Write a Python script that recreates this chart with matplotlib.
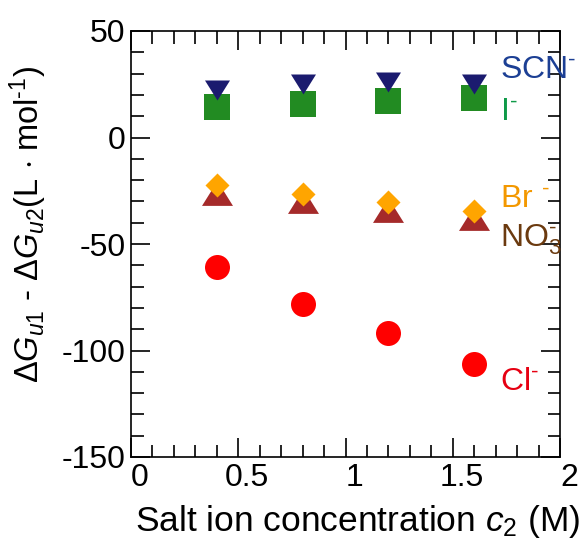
import matplotlib
matplotlib.use("Agg")
from matplotlib import pyplot as plt
from matplotlib import transforms
from matplotlib.ticker import MultipleLocator

plt.rcParams['font.family'] = ['Liberation Sans', 'DejaVu Sans']
plt.rcParams['mathtext.fontset'] = 'custom'
plt.rcParams['mathtext.rm'] = 'Liberation Sans'
plt.rcParams['mathtext.it'] = 'Liberation Sans:italic'
plt.rcParams['axes.unicode_minus'] = False

# salt ion concentration (M)
conc = [0.4, 0.8, 1.2, 1.6]

# delta G_u1 - delta G_u2 for each anion
scn = [22.3, 25.1, 26.2, 25.1]
iod = [14.3, 15.8, 17.3, 18.6]
br = [-22.5, -26.3, -30.5, -34.7]
no3 = [-26.1, -30.0, -34.0, -37.8]
cl = [-60.7, -78.1, -91.9, -106.3]

xticks = [0, 0.5, 1, 1.5, 2]
xticklabels = ['0', '0.5', '1', '1.5', '2']
yticks = [50, 0, -50, -100, -150]

tri_down = [(-1, 0.8), (1, 0.8), (0, -0.8), (-1, 0.8)]
tri_up = [(-1, -0.8), (1, -0.8), (0, 0.8), (-1, -0.8)]
diamond = [(0, 1), (1, 0), (0, -1), (-1, 0), (0, 1)]

fig = plt.figure(figsize=(5.87, 5.47), dpi=100)
ax = fig.add_axes([131 / 587, 90 / 547, 429 / 587, 426 / 547])

ax.plot(conc, iod, ls='none', marker='s', ms=18.7, color='#228b22', mew=0)
ax.plot(conc, scn, ls='none', marker=tri_down, ms=18, color='#1b1b6f', mew=0)
ax.plot(conc, no3, ls='none', marker=tri_up, ms=22.3, color='#a52a2a', mew=0)
ax.plot(conc, br, ls='none', marker=diamond, ms=17.3, color='#ffa500', mew=0)
ax.plot(conc, cl, ls='none', marker='o', ms=18, color='#ff0000', mew=0)

fs = 23
ax.text(1.72, 27.9, r'SCN$^{\text{-}}$', color='#1c3f94', fontsize=fs, clip_on=False)
ax.text(1.72, 8.2, r'I$^{\text{-}}$', color='#0f9a48', fontsize=fs, clip_on=False)
ax.text(1.72, -32.6, r'Br $^{\text{-}}$', color='#f39800', fontsize=fs, clip_on=False)
ax.text(1.72, -51.4, r'NO$_{3}^{\text{-}}$', color='#6b3a0f', fontsize=fs, clip_on=False)
ax.text(1.72, -118.5, r'Cl$^{\text{-}}$', color='#e60012', fontsize=fs, clip_on=False)

ax.set_xlim(0, 2)
ax.set_ylim(-150, 50)
ax.set_xticks(xticks)
ax.set_xticklabels(xticklabels)
ax.set_yticks(yticks)
ax.xaxis.set_minor_locator(MultipleLocator(0.1))
ax.yaxis.set_minor_locator(MultipleLocator(10))
ax.tick_params(which='both', direction='in', top=True, right=True, width=1.2,
               labelsize=23, color='black')
ax.tick_params(which='major', length=13.5, pad=4)
ax.tick_params(which='minor', length=9)
for sp in ax.spines.values():
    sp.set_linewidth(1.2)

shift = transforms.ScaledTranslation(0.09, 0, fig.dpi_scale_trans)
for lab in ax.get_xticklabels():
    lab.set_transform(lab.get_transform() + shift)

ax.set_xlabel(r'Salt ion concentration $\mathit{c_{2}}$ (M)', fontsize=25.5)
ax.xaxis.set_label_coords(0.529, -0.108)
ax.set_ylabel(r'$\mathit{\Delta G_{u1}}$ - $\mathit{\Delta G_{u2}}$(L $\cdot$ mol$^{\text{-1}}$)', fontsize=23.5)
ax.yaxis.set_label_coords(-0.19, 0.547)

plt.savefig('out.png', dpi=100)
